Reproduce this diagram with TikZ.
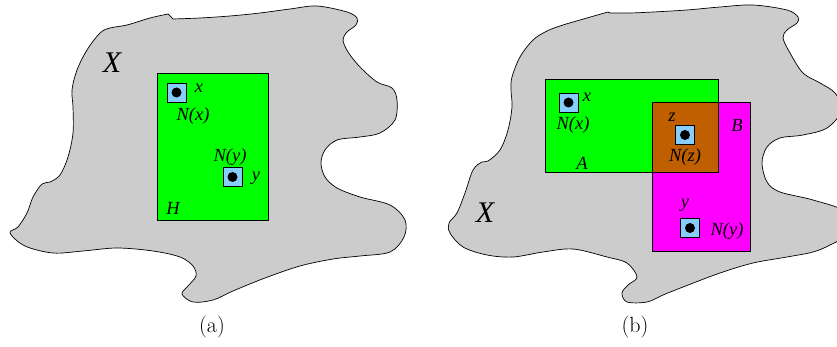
\documentclass[tikz,border=0pt]{standalone}
\usepackage{fontspec}
\newfontfamily\tms{Liberation Serif}
\definecolor{blobgray}{RGB}{204,204,204}
\definecolor{ngreen}{RGB}{0,255,0}
\definecolor{nmag}{RGB}{255,0,255}
\definecolor{nbrown}{RGB}{191,95,0}
\definecolor{nblue}{RGB}{135,206,255}
\begin{document}
\begin{tikzpicture}[x=1pt,y=-1pt,
  blob/.style={fill=blobgray, draw=black, line width=0.7pt},
  region/.style={draw=black, line width=0.8pt},
  nbox/.style={draw=black, fill=nblue, minimum size=19pt, inner sep=0pt, line width=0.8pt},
  ndot/.style={circle, fill=black, minimum size=10pt, inner sep=0pt},
  lab/.style={font=\tms\itshape\fontsize{18.5}{18.5}\selectfont, inner sep=0pt},
  big/.style={font=\tms\itshape\fontsize{30}{30}\selectfont, inner sep=0pt},
  capt/.style={font=\fontsize{22}{22}\selectfont, inner sep=0pt}]
\useasboundingbox (0,0) rectangle (837,347);
\clip (0,0) rectangle (837,347);

% ---------- panel (a) ----------
\draw[blob] plot[smooth, tension=0.55] coordinates {
 (173,19) (200,18) (230,16) (260,13) (290,9) (317,6) (347,12) (357,18) (356,25)
 (347,32) (343,40) (348,52) (360,67) (377,82) (392,88) (397,100) (395,120)
 (380,133) (360,137) (337,140) (325,150) (321,163) (325,177) (337,188) (360,197)
 (390,205) (405,220) (404,237) (390,252) (360,256) (333,259) (300,266) (265,278)
 (233,291) (213,300) (193,302) (182,294) (188,286) (196,276) (193,266) (180,257)
 (153,251) (117,248) (83,251) (53,253) (25,246) (10,233) (18,227) (27,213)
 (33,197) (42,184) (50,182) (60,175) (68,157) (73,133) (73,107) (72,90)
 (77,70) (87,50) (100,33) (110,28) (127,25) (150,18) (168,14)} -- cycle;

\fill[ngreen] (157,73) rectangle (268,220);
\draw[region] (157,73) rectangle (268,220);

\node[nbox] (bxa) at (176.5,92.5) {};
\node[ndot] (dxa) at (bxa.center) {};
\node[lab] (lxa) at (199,88) {x};
\node[lab] (nxa) at (193,116) {N(x)};
\node[nbox] (bya) at (232.5,177) {};
\node[ndot] (dya) at (bya.center) {};
\node[lab] (lya) at (256,178) {y};
\node[lab] (nya) at (230,157) {N(y)};
\node[lab] (H) at (173,208) {H};
\node[big] (Xa) at (112,63) {X};
\node[capt] (capa) at (212,327) {(a)};

% ---------- panel (b) ----------
\draw[blob] plot[smooth, tension=0.55] coordinates {
 (610,13) (630,13) (653,12) (687,10) (720,7) (753,5) (787,10) (798,17) (797,23)
 (787,30) (783,38) (790,53) (803,73) (820,83) (835,93) (842,110) (827,128)
 (803,135) (780,138) (767,147) (762,163) (767,182) (780,192) (813,200) (845,212)
 (845,235) (830,245) (813,252) (787,257) (753,263) (720,273) (683,287) (663,295)
 (647,302) (627,302) (622,293) (628,285) (637,277) (627,263) (607,257) (573,249)
 (543,252) (513,257) (487,255) (463,247) (450,233) (449,223) (457,213) (465,193)
 (473,170) (482,162) (488,161) (500,150) (508,130) (512,107) (511,90) (512,77)
 (520,57) (533,40) (547,31) (563,25) (587,18) (608,12)} -- cycle;

\fill[ngreen] (545,79) rectangle (718,172);
\fill[nmag] (652,102) rectangle (750,251);
\fill[nbrown] (652,102) rectangle (718,172);
\draw[region] (545,79) rectangle (718,172);
\draw[region] (652,102) rectangle (750,251);

\node[nbox] (bxb) at (568.5,102.5) {};
\node[ndot] (dxb) at (bxb.center) {};
\node[lab] (lxb) at (587,97) {x};
\node[lab] (nxb) at (573,125) {N(x)};
\node[nbox] (bzb) at (685,135) {};
\node[ndot] (dzb) at (bzb.center) {};
\node[lab] (lzb) at (672,117) {z};
\node[lab] (nzb) at (685,157) {N(z)};
\node[nbox] (byb) at (690,228) {};
\node[ndot] (dyb) at (byb.center) {};
\node[lab] (lyb) at (685,205) {y};
\node[lab] (nyb) at (727,231) {N(y)};
\node[lab] (A) at (582,163) {A};
\node[lab] (B) at (737,125) {B};
\node[big] (Xb) at (485,213) {X};
\node[capt] (capb) at (635,327) {(b)};
\end{tikzpicture}
\end{document}
